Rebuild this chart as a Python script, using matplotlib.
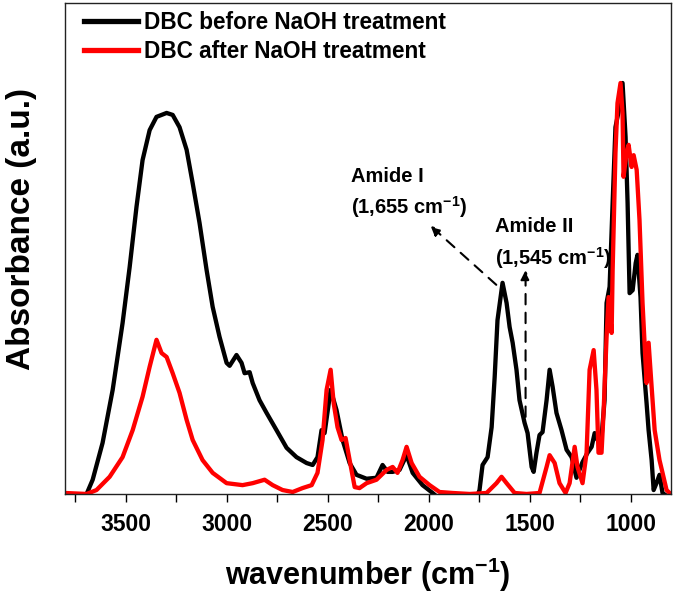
import numpy as np
import matplotlib
matplotlib.use("Agg")
import matplotlib.pyplot as plt

plt.rcParams['font.family'] = ['Liberation Sans', 'DejaVu Sans']
plt.rcParams['font.weight'] = 'bold'
plt.rcParams['mathtext.fontset'] = 'custom'
plt.rcParams['mathtext.rm'] = 'Liberation Sans:bold'
plt.rcParams['mathtext.it'] = 'Liberation Sans:bold'
plt.rcParams['mathtext.bf'] = 'Liberation Sans:bold'

# FTIR spectra (wavenumber in cm-1, absorbance in a.u.)
wn_before = [3800, 3720, 3693, 3663, 3614, 3564, 3515, 3480, 3446, 3416, 3381, 3347,
             3297, 3267, 3233, 3198, 3168, 3134, 3099, 3069, 3035, 3000, 2985, 2951,
             2926, 2911, 2886, 2871, 2837, 2802, 2753, 2703, 2654, 2604, 2574, 2550,
             2530, 2515, 2485, 2456, 2426, 2391, 2357, 2307, 2258, 2228, 2203, 2178,
             2144, 2109, 2079, 2030, 1980, 1946, 1850, 1765, 1748, 1733, 1708, 1688,
             1673, 1659, 1634, 1614, 1599, 1584, 1565, 1550, 1525, 1510, 1490, 1480,
             1466, 1451, 1436, 1416, 1401, 1386, 1367, 1342, 1317, 1292, 1268, 1238,
             1213, 1193, 1178, 1164, 1144, 1129, 1119, 1104, 1089, 1075, 1055, 1040,
             1025, 1015, 1005, 990, 975, 966, 951, 941, 921, 911, 896, 886,
             872, 857, 842, 800]
abs_before = [-1, -1, 0.0, 2.9, 10.4, 21.2, 34.8, 46.2, 58.5, 68.0, 74.1, 76.8,
              77.6, 77.2, 74.7, 70.1, 63.3, 55.2, 45.6, 38.1, 32.0, 26.7, 26.1, 28.3,
              26.7, 24.6, 24.8, 22.6, 19.1, 16.5, 13.0, 9.4, 7.5, 6.3, 5.9, 7.5,
              13.0, 12.4, 21.2, 17.1, 11.0, 6.3, 3.9, 3.1, 3.3, 5.9, 4.5, 4.5,
              4.9, 7.9, 4.3, 1.8, 0.2, -1, -1, -1, 0.8, 5.9, 7.5, 13.6,
              23.8, 35.4, 43.0, 38.9, 34.0, 30.8, 25.3, 19.1, 14.5, 12.4, 5.5, 4.5,
              8.4, 12.0, 12.6, 19.1, 25.3, 21.8, 16.5, 13.0, 9.0, 7.5, 3.3, 6.5,
              8.4, 9.6, 12.4, 11.0, 11.6, 19.1, 38.9, 42.2, 59.3, 74.7, 78.8, 83.7,
              72.7, 59.3, 40.9, 41.5, 47.0, 48.7, 40.1, 28.7, 18.5, 13.0, 6.9, 0.8,
              2.2, 3.9, 0.2, -1]

wn_after = [3800, 3693, 3644, 3579, 3515, 3465, 3416, 3381, 3347, 3322, 3297, 3267,
            3233, 3198, 3168, 3119, 3069, 3000, 2921, 2871, 2812, 2772, 2723, 2673,
            2624, 2579, 2550, 2525, 2505, 2485, 2470, 2451, 2431, 2411, 2391, 2366,
            2342, 2307, 2258, 2208, 2178, 2154, 2129, 2109, 2084, 2045, 1995, 1946,
            1881, 1797, 1713, 1664, 1639, 1614, 1574, 1515, 1451, 1416, 1401, 1376,
            1352, 1322, 1302, 1277, 1263, 1238, 1218, 1203, 1183, 1169, 1159, 1144,
            1134, 1119, 1109, 1094, 1089, 1075, 1065, 1050, 1040, 1035, 1020, 1010,
            995, 985, 970, 956, 941, 921, 911, 896, 881, 857, 842, 822, 807]
abs_after = [0.2, 0.0, 0.8, 3.5, 7.5, 13.0, 19.8, 25.9, 31.4, 28.7, 27.9, 24.6,
             20.6, 15.1, 11.0, 6.9, 4.3, 2.2, 1.8, 2.2, 2.9, 1.8, 0.8, 0.4,
             1.2, 1.8, 4.3, 11.0, 21.2, 25.3, 18.5, 13.6, 11.0, 11.4, 6.9, 1.4,
             1.2, 2.2, 2.9, 4.9, 5.5, 4.3, 6.9, 9.6, 6.3, 3.5, 1.8, 0.4,
             0.2, 0.0, 0.2, 2.2, 3.5, 2.2, 0.2, 0.0, 0.2, 5.5, 7.9, 6.3,
             2.2, 0.2, 2.2, 9.6, 5.5, 2.2, 8.4, 25.3, 29.3, 21.2, 8.4, 8.4,
             16.5, 32.0, 40.1, 32.8, 45.6, 69.5, 79.6, 83.7, 77.6, 64.6, 69.5, 71.1,
             66.6, 69.0, 66.0, 55.8, 38.9, 22.6, 30.8, 21.8, 13.0, 6.9, 4.3, 0.8, 0.2]

fig = plt.figure(figsize=(6.75, 5.93), dpi=100)
ax = fig.add_axes([0.0963, 0.167, 0.8978, 0.828])

ax.plot(wn_before, abs_before, color='black', lw=3.1, solid_joinstyle='round',
        label='DBC before NaOH treatment')
ax.plot(wn_after, abs_after, color='#ff0000', lw=3.1, solid_joinstyle='round',
        label='DBC after NaOH treatment')

ax.set_xlim(3800, 800)
ax.set_ylim(0, 100)
ax.set_xticks([3500, 3000, 2500, 2000, 1500, 1000])
ax.set_xticks(np.arange(3750, 800, -250), minor=True)
ax.tick_params(axis='x', which='both', direction='out', length=6, width=1,
               labelsize=16.5, pad=8)
ax.set_yticks([])
for s in ax.spines.values():
    s.set_linewidth(1.0)
    s.set_color('#222222')

ax.set_xlabel('wavenumber (cm$^{-1}$)', fontsize=22, fontweight='bold', labelpad=14)
ax.set_ylabel('Absorbance (a.u.)', fontsize=24, fontweight='bold')
ax.yaxis.set_label_coords(-0.047, 0.54)

# amide annotations
ax.annotate('', xy=(1990, 54.6), xytext=(1665, 42.6),
            arrowprops=dict(arrowstyle='-|>', ls=(0, (5, 4)), lw=1.5, color='black',
                            mutation_scale=14, shrinkA=0, shrinkB=0))
ax.annotate('', xy=(1520, 45.6), xytext=(1520, 15.7),
            arrowprops=dict(arrowstyle='-|>', ls=(0, (5, 4)), lw=1.5, color='black',
                            mutation_scale=14, shrinkA=0, shrinkB=0))
ax.text(2386, 63.5, 'Amide I', fontsize=14.5, fontweight='bold')
ax.text(2386, 57.0, '(1,655 cm$^{-1}$)', fontsize=14.5, fontweight='bold')
ax.text(1669, 53.4, 'Amide II', fontsize=14.5, fontweight='bold')
ax.text(1669, 46.6, '(1,545 cm$^{-1}$)', fontsize=14.5, fontweight='bold')

leg = ax.legend(loc='upper left', bbox_to_anchor=(0.031, 0.984), frameon=False,
                fontsize=16.3, handlelength=2.4, handletextpad=0.25,
                borderaxespad=0, borderpad=0, labelspacing=0.28)
for line in leg.get_lines():
    line.set_linewidth(3.8)

fig.savefig('out.png', dpi=100)
